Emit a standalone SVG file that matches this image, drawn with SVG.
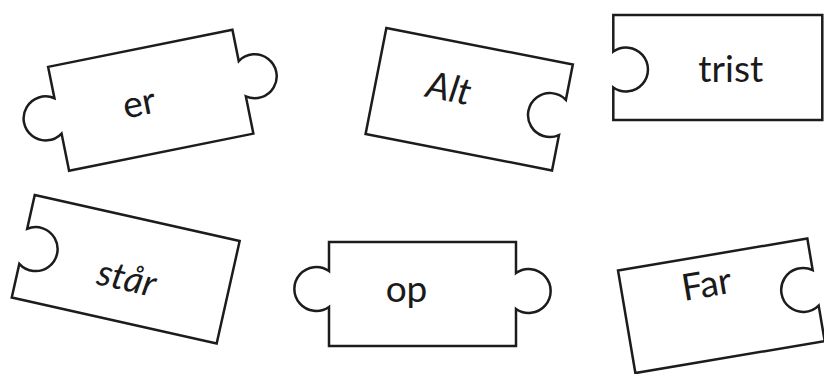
<svg xmlns="http://www.w3.org/2000/svg" width="824" height="374" viewBox="0 0 824 374">
<style>
.piece{fill:#fff;stroke:#1c1c1c;stroke-width:2.5;stroke-linejoin:miter}
.lbl{font-family:Lato,"Open Sans","Liberation Sans",sans-serif;font-size:37px;fill:#1a1a1a;text-anchor:middle}
.it{font-style:italic}
</style>
<rect width="824" height="374" fill="#fff"/>
<g id="connectors"/>
<g id="piece-er" transform="translate(150.75,100.25) rotate(-11.4)">
<path class="piece" d="M-94,-53 H94 V-21 A22 22 0 1 1 94,15 V53 H-94 V15 A22 22 0 1 1 -94,-21 Z"/>
<text class="lbl" x="-12" y="13">er</text>
</g>
<g id="piece-alt" transform="translate(469.2,99.2) rotate(11.1)">
<path class="piece" d="M-95,-54 H95 V-18 A22 22 0 1 0 95,18 V54 H-95 Z"/>
<text class="lbl it" x="-22" y="6">Alt</text>
</g>
<g id="piece-trist" transform="translate(717.8,67.5)">
<path class="piece" d="M-104.5,-52.5 H104.5 V52.5 H-104.5 V20 A22 22 0 1 0 -104.5,-16 Z"/>
<text class="lbl" x="13" y="14">trist</text>
</g>
<g id="piece-star" transform="translate(125.7,269.3) rotate(12.65)">
<path class="piece" d="M-105,-52.5 H105 V52.5 H-105 V18 A22 22 0 1 0 -105,-18 Z"/>
<text class="lbl it" x="3" y="21">står</text>
</g>
<g id="piece-op" transform="translate(422.5,294)">
<path class="piece" d="M-93.5,-52 H93.5 V-21 A22 22 0 1 1 93.5,15 V52 H-93.5 V13 A22 22 0 1 1 -93.5,-23 Z"/>
<text class="lbl" x="-16" y="8">op</text>
</g>
<g id="piece-far" transform="translate(721.35,305.8) rotate(-9.6)">
<path class="piece" d="M-96,-52 H96 V-20 A22 22 0 1 0 96,16 V52 H-96 Z"/>
<text class="lbl" x="-11" y="-11">Far</text>
</g>
</svg>
